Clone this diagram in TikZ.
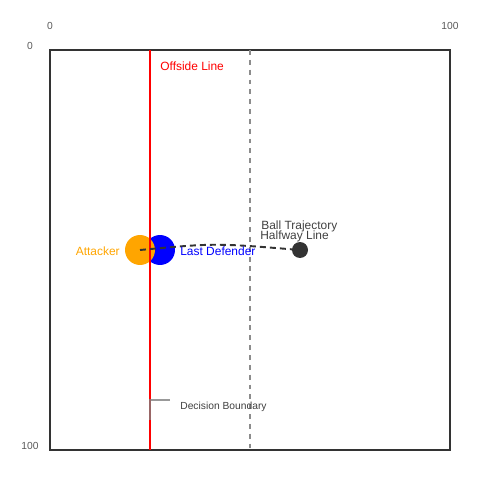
\documentclass[tikz,border=0pt]{standalone}
\usepackage{fontspec}
\setmainfont{Liberation Sans}
\definecolor{weborange}{HTML}{FFA500}
\begin{document}
\begin{tikzpicture}[x=0.02cm,y=-0.02cm,
  lbl/.style={inner sep=0pt,font=\fontsize{6.8pt}{7pt}\selectfont},
  small/.style={inner sep=0pt,font=\fontsize{5.85pt}{6pt}\selectfont},
  axis/.style={small,text=black!65},
  player/.style={circle,minimum size=0.6cm,inner sep=0pt},
]
\useasboundingbox (0,0) rectangle (500,500);
% field
\coordinate (tl) at (50,50); \coordinate (br) at (450,450);
\draw[line width=1.1pt,draw=black!80] (tl) rectangle (br);
% halfway line
\coordinate (h1) at (250,50); \coordinate (h2) at (250,450);
\draw[line width=1.1pt,draw=black!45,dash pattern=on 2.8pt off 2.8pt] (h1) -- (h2);
% players
\node[player,fill=blue] (def) at (160,250) {};
\node[player,fill=weborange] (att) at (140,250) {};
\node[circle,fill=black!80,minimum size=0.32cm,inner sep=0pt] (ball) at (300,250) {};
% offside line
\coordinate (o1) at (150,50); \coordinate (o2) at (150,450);
\draw[line width=1.1pt,red] (o1) -- (o2);
% trajectory
\draw[line width=1.1pt,draw=black!80,dash pattern=on 3.4pt off 2.3pt] (att.center) .. controls (215,243) .. (ball.center);
% decision boundary
\coordinate (d1) at (170,400); \coordinate (d2) at (150,400); \coordinate (d3) at (150,420);
\draw[line width=1.1pt,draw=black!50,opacity=0.8] (d1) -- (d2) -- (d3);
% labels
\node[lbl,text=red,anchor=west] (offl) at (160,66) {Offside Line};
\node[lbl,text=weborange,anchor=east] (attl) at (120,251) {Attacker};
\node[lbl,text=blue,anchor=west] (defl) at (180,251) {Last Defender};
\node[lbl,text=black!75,anchor=west] (btl) at (261,226) {Ball Trajectory};
\node[lbl,text=black!75,anchor=west] (hl) at (260,236) {Halfway Line};
\node[small,text=black!75,anchor=west] (dbl) at (180,407) {Decision Boundary};
% axis labels
\node[axis] (x0) at (50,26) {0};
\node[axis] (x100) at (450,26) {100};
\node[axis] (y0) at (30,46) {0};
\node[axis] (y100) at (30,446) {100};
\end{tikzpicture}
\end{document}
